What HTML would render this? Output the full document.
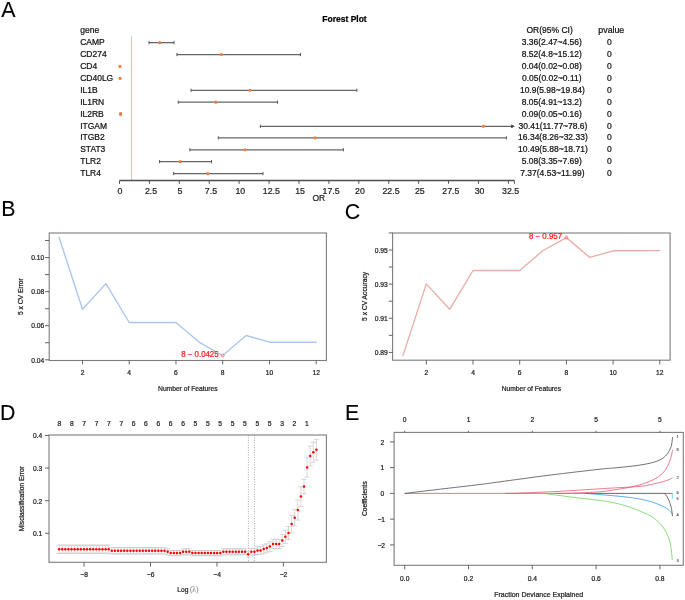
<!DOCTYPE html>
<html><head><meta charset="utf-8"><style>
html,body{margin:0;padding:0;background:#fff;}
svg{display:block;will-change:transform;}
svg text{font-family:"Liberation Sans", sans-serif;stroke:currentColor;stroke-width:0.22px;}
</style></head><body>
<svg width="685" height="600" viewBox="0 0 685 600">
<rect width="685" height="600" fill="#fff"/>
<text transform="translate(1.3,16.7) scale(1,1.025)" x="0" y="0" font-size="21.4" fill="#000" color="#000" style="stroke-width:0.1px">A</text>
<text transform="translate(1.3,216.1) scale(1,1.025)" x="0" y="0" font-size="21.4" fill="#000" color="#000" style="stroke-width:0.1px">B</text>
<text transform="translate(344.8,219.1) scale(1,1.025)" x="0" y="0" font-size="21.4" fill="#000" color="#000" style="stroke-width:0.1px">C</text>
<text transform="translate(-0.1,419.9) scale(1,1.025)" x="0" y="0" font-size="21.4" fill="#000" color="#000" style="stroke-width:0.1px">D</text>
<text transform="translate(344.9,419.8) scale(1,1.025)" x="0" y="0" font-size="21.4" fill="#000" color="#000" style="stroke-width:0.1px">E</text>
<text transform="translate(344.50,21.90) scale(1,1.04)" font-size="8.5" text-anchor="middle" fill="#000" color="#000" font-weight="bold">Forest Plot</text>
<text transform="translate(80.30,33.30) scale(1,1.04)" font-size="8.5" text-anchor="start" fill="#111" color="#111">gene</text>
<text transform="translate(549.60,33.20) scale(1,1.04)" font-size="8.5" text-anchor="middle" fill="#111" color="#111">OR(95% CI)</text>
<text transform="translate(611.30,33.20) scale(1,1.04)" font-size="8.8" text-anchor="middle" fill="#111" color="#111">pvalue</text>
<line x1="131.50" y1="36.30" x2="131.50" y2="180.00" stroke="#a8cdec" stroke-width="1"/>
<text transform="translate(80.20,45.20) scale(1,1.04)" font-size="8.5" text-anchor="start" fill="#111" color="#111">CAMP</text>
<text transform="translate(551.80,45.20) scale(1,1.04)" font-size="8.5" text-anchor="middle" fill="#111" color="#111">3.36(2.47~4.56)</text>
<text transform="translate(609.30,45.20) scale(1,1.04)" font-size="8.5" text-anchor="middle" fill="#111" color="#111">0</text>
<line x1="149.06" y1="42.65" x2="174.06" y2="42.65" stroke="#666" stroke-width="1.25"/>
<line x1="149.06" y1="41.05" x2="149.06" y2="44.25" stroke="#555" stroke-width="1"/>
<line x1="174.06" y1="41.05" x2="174.06" y2="44.25" stroke="#555" stroke-width="1"/>
<circle cx="159.71" cy="42.65" r="1.6" fill="#f07d3a"/>
<text transform="translate(80.20,57.10) scale(1,1.04)" font-size="8.5" text-anchor="start" fill="#111" color="#111">CD274</text>
<text transform="translate(551.80,57.10) scale(1,1.04)" font-size="8.5" text-anchor="middle" fill="#111" color="#111">8.52(4.8~15.12)</text>
<text transform="translate(609.30,57.10) scale(1,1.04)" font-size="8.5" text-anchor="middle" fill="#111" color="#111">0</text>
<line x1="176.94" y1="54.55" x2="300.43" y2="54.55" stroke="#666" stroke-width="1.25"/>
<line x1="176.94" y1="52.95" x2="176.94" y2="56.15" stroke="#555" stroke-width="1"/>
<line x1="300.43" y1="52.95" x2="300.43" y2="56.15" stroke="#555" stroke-width="1"/>
<circle cx="221.45" cy="54.55" r="1.6" fill="#f07d3a"/>
<text transform="translate(80.20,69.00) scale(1,1.04)" font-size="8.5" text-anchor="start" fill="#111" color="#111">CD4</text>
<text transform="translate(551.80,69.00) scale(1,1.04)" font-size="8.5" text-anchor="middle" fill="#111" color="#111">0.04(0.02~0.08)</text>
<text transform="translate(609.30,69.00) scale(1,1.04)" font-size="8.5" text-anchor="middle" fill="#111" color="#111">0</text>
<circle cx="119.98" cy="66.45" r="1.6" fill="#f07d3a"/>
<text transform="translate(80.20,80.90) scale(1,1.04)" font-size="8.5" text-anchor="start" fill="#111" color="#111">CD40LG</text>
<text transform="translate(551.80,80.90) scale(1,1.04)" font-size="8.5" text-anchor="middle" fill="#111" color="#111">0.05(0.02~0.11)</text>
<text transform="translate(609.30,80.90) scale(1,1.04)" font-size="8.5" text-anchor="middle" fill="#111" color="#111">0</text>
<circle cx="120.10" cy="78.35" r="1.6" fill="#f07d3a"/>
<text transform="translate(80.20,92.80) scale(1,1.04)" font-size="8.5" text-anchor="start" fill="#111" color="#111">IL1B</text>
<text transform="translate(552.36,92.80) scale(1,1.04)" font-size="8.5" text-anchor="middle" fill="#111" color="#111">10.9(5.98~19.84)</text>
<text transform="translate(609.30,92.80) scale(1,1.04)" font-size="8.5" text-anchor="middle" fill="#111" color="#111">0</text>
<line x1="191.06" y1="90.25" x2="356.91" y2="90.25" stroke="#666" stroke-width="1.25"/>
<line x1="191.06" y1="88.65" x2="191.06" y2="91.85" stroke="#555" stroke-width="1"/>
<line x1="356.91" y1="88.65" x2="356.91" y2="91.85" stroke="#555" stroke-width="1"/>
<circle cx="249.93" cy="90.25" r="1.6" fill="#f07d3a"/>
<text transform="translate(80.20,104.70) scale(1,1.04)" font-size="8.5" text-anchor="start" fill="#111" color="#111">IL1RN</text>
<text transform="translate(551.80,104.70) scale(1,1.04)" font-size="8.5" text-anchor="middle" fill="#111" color="#111">8.05(4.91~13.2)</text>
<text transform="translate(609.30,104.70) scale(1,1.04)" font-size="8.5" text-anchor="middle" fill="#111" color="#111">0</text>
<line x1="178.25" y1="102.15" x2="277.45" y2="102.15" stroke="#666" stroke-width="1.25"/>
<line x1="178.25" y1="100.55" x2="178.25" y2="103.75" stroke="#555" stroke-width="1"/>
<line x1="277.45" y1="100.55" x2="277.45" y2="103.75" stroke="#555" stroke-width="1"/>
<circle cx="215.83" cy="102.15" r="1.6" fill="#f07d3a"/>
<text transform="translate(80.20,116.60) scale(1,1.04)" font-size="8.5" text-anchor="start" fill="#111" color="#111">IL2RB</text>
<text transform="translate(551.80,116.60) scale(1,1.04)" font-size="8.5" text-anchor="middle" fill="#111" color="#111">0.09(0.05~0.16)</text>
<text transform="translate(609.30,116.60) scale(1,1.04)" font-size="8.5" text-anchor="middle" fill="#111" color="#111">0</text>
<line x1="120.10" y1="114.05" x2="121.41" y2="114.05" stroke="#666" stroke-width="1.25"/>
<line x1="120.10" y1="112.45" x2="120.10" y2="115.65" stroke="#555" stroke-width="1"/>
<line x1="121.41" y1="112.45" x2="121.41" y2="115.65" stroke="#555" stroke-width="1"/>
<circle cx="120.58" cy="114.05" r="1.6" fill="#f07d3a"/>
<text transform="translate(80.20,128.50) scale(1,1.04)" font-size="8.5" text-anchor="start" fill="#111" color="#111">ITGAM</text>
<text transform="translate(552.92,128.50) scale(1,1.04)" font-size="8.5" text-anchor="middle" fill="#111" color="#111">30.41(11.77~78.6)</text>
<text transform="translate(609.30,128.50) scale(1,1.04)" font-size="8.5" text-anchor="middle" fill="#111" color="#111">0</text>
<line x1="260.34" y1="126.35" x2="512.00" y2="126.35" stroke="#666" stroke-width="1.25"/>
<path d="M514.9,126.35 L511.2,124.45 L511.2,128.25 Z" fill="#3a3a3a"/>
<line x1="260.34" y1="124.75" x2="260.34" y2="127.95" stroke="#555" stroke-width="1"/>
<circle cx="483.39" cy="126.35" r="1.6" fill="#f07d3a"/>
<text transform="translate(80.20,140.40) scale(1,1.04)" font-size="8.5" text-anchor="start" fill="#111" color="#111">ITGB2</text>
<text transform="translate(552.92,140.40) scale(1,1.04)" font-size="8.5" text-anchor="middle" fill="#111" color="#111">16.34(8.26~32.33)</text>
<text transform="translate(609.30,140.40) scale(1,1.04)" font-size="8.5" text-anchor="middle" fill="#111" color="#111">0</text>
<line x1="218.34" y1="137.85" x2="506.36" y2="137.85" stroke="#666" stroke-width="1.25"/>
<line x1="218.34" y1="136.25" x2="218.34" y2="139.45" stroke="#555" stroke-width="1"/>
<line x1="506.36" y1="136.25" x2="506.36" y2="139.45" stroke="#555" stroke-width="1"/>
<circle cx="315.02" cy="137.85" r="1.6" fill="#f07d3a"/>
<text transform="translate(80.20,152.30) scale(1,1.04)" font-size="8.5" text-anchor="start" fill="#111" color="#111">STAT3</text>
<text transform="translate(552.92,152.30) scale(1,1.04)" font-size="8.5" text-anchor="middle" fill="#111" color="#111">10.49(5.88~18.71)</text>
<text transform="translate(609.30,152.30) scale(1,1.04)" font-size="8.5" text-anchor="middle" fill="#111" color="#111">0</text>
<line x1="189.86" y1="149.75" x2="343.38" y2="149.75" stroke="#666" stroke-width="1.25"/>
<line x1="189.86" y1="148.15" x2="189.86" y2="151.35" stroke="#555" stroke-width="1"/>
<line x1="343.38" y1="148.15" x2="343.38" y2="151.35" stroke="#555" stroke-width="1"/>
<circle cx="245.02" cy="149.75" r="1.6" fill="#f07d3a"/>
<text transform="translate(80.20,164.20) scale(1,1.04)" font-size="8.5" text-anchor="start" fill="#111" color="#111">TLR2</text>
<text transform="translate(551.80,164.20) scale(1,1.04)" font-size="8.5" text-anchor="middle" fill="#111" color="#111">5.08(3.35~7.69)</text>
<text transform="translate(609.30,164.20) scale(1,1.04)" font-size="8.5" text-anchor="middle" fill="#111" color="#111">0</text>
<line x1="159.59" y1="161.65" x2="211.52" y2="161.65" stroke="#666" stroke-width="1.25"/>
<line x1="159.59" y1="160.05" x2="159.59" y2="163.25" stroke="#555" stroke-width="1"/>
<line x1="211.52" y1="160.05" x2="211.52" y2="163.25" stroke="#555" stroke-width="1"/>
<circle cx="180.29" cy="161.65" r="1.6" fill="#f07d3a"/>
<text transform="translate(80.20,176.10) scale(1,1.04)" font-size="8.5" text-anchor="start" fill="#111" color="#111">TLR4</text>
<text transform="translate(552.36,176.10) scale(1,1.04)" font-size="8.5" text-anchor="middle" fill="#111" color="#111">7.37(4.53~11.99)</text>
<text transform="translate(609.30,176.10) scale(1,1.04)" font-size="8.5" text-anchor="middle" fill="#111" color="#111">0</text>
<line x1="173.71" y1="173.55" x2="262.97" y2="173.55" stroke="#666" stroke-width="1.25"/>
<line x1="173.71" y1="171.95" x2="173.71" y2="175.15" stroke="#555" stroke-width="1"/>
<line x1="262.97" y1="171.95" x2="262.97" y2="175.15" stroke="#555" stroke-width="1"/>
<circle cx="207.69" cy="173.55" r="1.6" fill="#f07d3a"/>
<line x1="119.50" y1="180.50" x2="514.40" y2="180.50" stroke="#505050" stroke-width="1.3"/>
<line x1="119.50" y1="180.50" x2="119.50" y2="183.80" stroke="#505050" stroke-width="1"/>
<line x1="149.41" y1="180.50" x2="149.41" y2="183.80" stroke="#505050" stroke-width="1"/>
<line x1="179.33" y1="180.50" x2="179.33" y2="183.80" stroke="#505050" stroke-width="1"/>
<line x1="209.25" y1="180.50" x2="209.25" y2="183.80" stroke="#505050" stroke-width="1"/>
<line x1="239.16" y1="180.50" x2="239.16" y2="183.80" stroke="#505050" stroke-width="1"/>
<line x1="269.07" y1="180.50" x2="269.07" y2="183.80" stroke="#505050" stroke-width="1"/>
<line x1="298.99" y1="180.50" x2="298.99" y2="183.80" stroke="#505050" stroke-width="1"/>
<line x1="328.90" y1="180.50" x2="328.90" y2="183.80" stroke="#505050" stroke-width="1"/>
<line x1="358.82" y1="180.50" x2="358.82" y2="183.80" stroke="#505050" stroke-width="1"/>
<line x1="388.73" y1="180.50" x2="388.73" y2="183.80" stroke="#505050" stroke-width="1"/>
<line x1="418.65" y1="180.50" x2="418.65" y2="183.80" stroke="#505050" stroke-width="1"/>
<line x1="448.56" y1="180.50" x2="448.56" y2="183.80" stroke="#505050" stroke-width="1"/>
<line x1="478.48" y1="180.50" x2="478.48" y2="183.80" stroke="#505050" stroke-width="1"/>
<line x1="508.39" y1="180.50" x2="508.39" y2="183.80" stroke="#505050" stroke-width="1"/>
<line x1="514.38" y1="180.50" x2="514.38" y2="183.80" stroke="#505050" stroke-width="1"/>
<text transform="translate(120.06,193.60) scale(1,1.04)" font-size="8.8" text-anchor="middle" fill="#222" color="#222">0</text>
<text transform="translate(151.09,193.60) scale(1,1.04)" font-size="8.8" text-anchor="middle" fill="#222" color="#222">2.5</text>
<text transform="translate(179.89,193.60) scale(1,1.04)" font-size="8.8" text-anchor="middle" fill="#222" color="#222">5</text>
<text transform="translate(210.93,193.60) scale(1,1.04)" font-size="8.8" text-anchor="middle" fill="#222" color="#222">7.5</text>
<text transform="translate(240.28,193.60) scale(1,1.04)" font-size="8.8" text-anchor="middle" fill="#222" color="#222">10</text>
<text transform="translate(271.31,193.60) scale(1,1.04)" font-size="8.8" text-anchor="middle" fill="#222" color="#222">12.5</text>
<text transform="translate(300.11,193.60) scale(1,1.04)" font-size="8.8" text-anchor="middle" fill="#222" color="#222">15</text>
<text transform="translate(331.14,193.60) scale(1,1.04)" font-size="8.8" text-anchor="middle" fill="#222" color="#222">17.5</text>
<text transform="translate(359.94,193.60) scale(1,1.04)" font-size="8.8" text-anchor="middle" fill="#222" color="#222">20</text>
<text transform="translate(390.97,193.60) scale(1,1.04)" font-size="8.8" text-anchor="middle" fill="#222" color="#222">22.5</text>
<text transform="translate(419.77,193.60) scale(1,1.04)" font-size="8.8" text-anchor="middle" fill="#222" color="#222">25</text>
<text transform="translate(450.81,193.60) scale(1,1.04)" font-size="8.8" text-anchor="middle" fill="#222" color="#222">27.5</text>
<text transform="translate(479.60,193.60) scale(1,1.04)" font-size="8.8" text-anchor="middle" fill="#222" color="#222">30</text>
<text transform="translate(510.63,193.60) scale(1,1.04)" font-size="8.8" text-anchor="middle" fill="#222" color="#222">32.5</text>
<text transform="translate(318.80,200.80) scale(1,1.04)" font-size="8.5" text-anchor="middle" fill="#222" color="#222">OR</text>
<rect x="49.2" y="233.0" width="277.2" height="127.5" fill="none" stroke="#7d7d7d" stroke-width="1.1"/>
<line x1="45.00" y1="359.80" x2="49.20" y2="359.80" stroke="#555" stroke-width="0.9"/>
<text transform="translate(44.20,362.50) scale(1,1.04)" font-size="6.7" text-anchor="end" fill="#222" color="#222">0.04</text>
<line x1="45.00" y1="342.76" x2="49.20" y2="342.76" stroke="#555" stroke-width="0.9"/>
<line x1="45.00" y1="325.72" x2="49.20" y2="325.72" stroke="#555" stroke-width="0.9"/>
<text transform="translate(44.20,328.42) scale(1,1.04)" font-size="6.7" text-anchor="end" fill="#222" color="#222">0.06</text>
<line x1="45.00" y1="308.68" x2="49.20" y2="308.68" stroke="#555" stroke-width="0.9"/>
<line x1="45.00" y1="291.64" x2="49.20" y2="291.64" stroke="#555" stroke-width="0.9"/>
<text transform="translate(44.20,294.34) scale(1,1.04)" font-size="6.7" text-anchor="end" fill="#222" color="#222">0.08</text>
<line x1="45.00" y1="274.60" x2="49.20" y2="274.60" stroke="#555" stroke-width="0.9"/>
<line x1="45.00" y1="257.56" x2="49.20" y2="257.56" stroke="#555" stroke-width="0.9"/>
<text transform="translate(44.20,260.26) scale(1,1.04)" font-size="6.7" text-anchor="end" fill="#222" color="#222">0.10</text>
<line x1="45.00" y1="240.52" x2="49.20" y2="240.52" stroke="#555" stroke-width="0.9"/>
<line x1="82.50" y1="360.50" x2="82.50" y2="364.40" stroke="#555" stroke-width="0.9"/>
<text transform="translate(82.50,374.90) scale(1,1.04)" font-size="6.7" text-anchor="middle" fill="#222" color="#222">2</text>
<line x1="129.24" y1="360.50" x2="129.24" y2="364.40" stroke="#555" stroke-width="0.9"/>
<text transform="translate(129.24,374.90) scale(1,1.04)" font-size="6.7" text-anchor="middle" fill="#222" color="#222">4</text>
<line x1="175.98" y1="360.50" x2="175.98" y2="364.40" stroke="#555" stroke-width="0.9"/>
<text transform="translate(175.98,374.90) scale(1,1.04)" font-size="6.7" text-anchor="middle" fill="#222" color="#222">6</text>
<line x1="222.72" y1="360.50" x2="222.72" y2="364.40" stroke="#555" stroke-width="0.9"/>
<text transform="translate(222.72,374.90) scale(1,1.04)" font-size="6.7" text-anchor="middle" fill="#222" color="#222">8</text>
<line x1="269.46" y1="360.50" x2="269.46" y2="364.40" stroke="#555" stroke-width="0.9"/>
<text transform="translate(269.46,374.90) scale(1,1.04)" font-size="6.7" text-anchor="middle" fill="#222" color="#222">10</text>
<line x1="316.20" y1="360.50" x2="316.20" y2="364.40" stroke="#555" stroke-width="0.9"/>
<text transform="translate(316.20,374.90) scale(1,1.04)" font-size="6.7" text-anchor="middle" fill="#222" color="#222">12</text>
<text transform="translate(187.80,391.00) scale(1,1.04)" font-size="6.7" text-anchor="middle" fill="#222" color="#222">Number of Features</text>
<text transform="translate(23.1,296.6) rotate(-90) scale(1,1.04)" font-size="6.7" text-anchor="middle" fill="#222" color="#222">5 x CV Error</text>
<polyline points="59.13,237.50 82.50,309.30 105.87,283.60 129.24,322.50 152.61,322.50 175.98,322.50 199.35,342.30 222.72,355.50 246.09,335.50 269.46,342.20 292.83,342.30 316.20,342.30" fill="none" stroke="#adc7ec" stroke-width="1.4" stroke-linejoin="round" stroke-linecap="round"/>
<text transform="translate(218.60,357.30) scale(1,1.04)" font-size="7.85" text-anchor="end" fill="#ff1a1a" color="#ff1a1a">8 − 0.0425</text>
<circle cx="222.72" cy="355.5" r="1.5" fill="none" stroke="#ee7070" stroke-width="0.8"/>
<rect x="392.6" y="233.0" width="277.5" height="127.19999999999999" fill="none" stroke="#7d7d7d" stroke-width="1.1"/>
<line x1="388.80" y1="352.42" x2="392.60" y2="352.42" stroke="#555" stroke-width="0.9"/>
<text transform="translate(387.80,355.22) scale(1,1.04)" font-size="6.7" text-anchor="end" fill="#222" color="#222">0.89</text>
<line x1="388.80" y1="335.35" x2="392.60" y2="335.35" stroke="#555" stroke-width="0.9"/>
<line x1="388.80" y1="318.28" x2="392.60" y2="318.28" stroke="#555" stroke-width="0.9"/>
<text transform="translate(387.80,321.08) scale(1,1.04)" font-size="6.7" text-anchor="end" fill="#222" color="#222">0.91</text>
<line x1="388.80" y1="301.21" x2="392.60" y2="301.21" stroke="#555" stroke-width="0.9"/>
<line x1="388.80" y1="284.14" x2="392.60" y2="284.14" stroke="#555" stroke-width="0.9"/>
<text transform="translate(387.80,286.94) scale(1,1.04)" font-size="6.7" text-anchor="end" fill="#222" color="#222">0.93</text>
<line x1="388.80" y1="267.07" x2="392.60" y2="267.07" stroke="#555" stroke-width="0.9"/>
<line x1="388.80" y1="250.00" x2="392.60" y2="250.00" stroke="#555" stroke-width="0.9"/>
<text transform="translate(387.80,252.80) scale(1,1.04)" font-size="6.7" text-anchor="end" fill="#222" color="#222">0.95</text>
<line x1="388.80" y1="232.93" x2="392.60" y2="232.93" stroke="#555" stroke-width="0.9"/>
<line x1="426.30" y1="360.20" x2="426.30" y2="364.50" stroke="#555" stroke-width="0.9"/>
<text transform="translate(426.30,374.90) scale(1,1.04)" font-size="6.7" text-anchor="middle" fill="#222" color="#222">2</text>
<line x1="473.00" y1="360.20" x2="473.00" y2="364.50" stroke="#555" stroke-width="0.9"/>
<text transform="translate(473.00,374.90) scale(1,1.04)" font-size="6.7" text-anchor="middle" fill="#222" color="#222">4</text>
<line x1="519.70" y1="360.20" x2="519.70" y2="364.50" stroke="#555" stroke-width="0.9"/>
<text transform="translate(519.70,374.90) scale(1,1.04)" font-size="6.7" text-anchor="middle" fill="#222" color="#222">6</text>
<line x1="566.40" y1="360.20" x2="566.40" y2="364.50" stroke="#555" stroke-width="0.9"/>
<text transform="translate(566.40,374.90) scale(1,1.04)" font-size="6.7" text-anchor="middle" fill="#222" color="#222">8</text>
<line x1="613.10" y1="360.20" x2="613.10" y2="364.50" stroke="#555" stroke-width="0.9"/>
<text transform="translate(613.10,374.90) scale(1,1.04)" font-size="6.7" text-anchor="middle" fill="#222" color="#222">10</text>
<line x1="659.80" y1="360.20" x2="659.80" y2="364.50" stroke="#555" stroke-width="0.9"/>
<text transform="translate(659.80,374.90) scale(1,1.04)" font-size="6.7" text-anchor="middle" fill="#222" color="#222">12</text>
<text transform="translate(531.40,390.80) scale(1,1.04)" font-size="6.7" text-anchor="middle" fill="#222" color="#222">Number of Features</text>
<text transform="translate(367.3,296.4) rotate(-90) scale(1,1.04)" font-size="6.7" text-anchor="middle" fill="#222" color="#222">5 x CV Accuracy</text>
<polyline points="402.95,355.60 426.30,283.90 449.65,309.30 473.00,270.50 496.35,270.50 519.70,270.50 543.05,250.50 566.40,237.60 589.75,257.40 613.10,250.80 636.45,250.70 659.80,250.60" fill="none" stroke="#e8b0aa" stroke-width="1.4" stroke-linejoin="round" stroke-linecap="round"/>
<text transform="translate(562.00,239.30) scale(1,1.04)" font-size="7.85" text-anchor="end" fill="#ff1a1a" color="#ff1a1a">8 − 0.957</text>
<circle cx="566.40" cy="237.5" r="1.5" fill="none" stroke="#ee7070" stroke-width="0.8"/>
<rect x="49.0" y="435.0" width="277.4" height="127.29999999999995" fill="none" stroke="#7d7d7d" stroke-width="1.1"/>
<line x1="45.00" y1="533.27" x2="49.00" y2="533.27" stroke="#555" stroke-width="0.9"/>
<text transform="translate(42.20,536.17) scale(1,1.04)" font-size="6.7" text-anchor="end" fill="#222" color="#222">0.1</text>
<line x1="45.00" y1="500.68" x2="49.00" y2="500.68" stroke="#555" stroke-width="0.9"/>
<text transform="translate(42.20,503.58) scale(1,1.04)" font-size="6.7" text-anchor="end" fill="#222" color="#222">0.2</text>
<line x1="45.00" y1="468.09" x2="49.00" y2="468.09" stroke="#555" stroke-width="0.9"/>
<text transform="translate(42.20,470.99) scale(1,1.04)" font-size="6.7" text-anchor="end" fill="#222" color="#222">0.3</text>
<line x1="45.00" y1="435.50" x2="49.00" y2="435.50" stroke="#555" stroke-width="0.9"/>
<text transform="translate(42.20,438.40) scale(1,1.04)" font-size="6.7" text-anchor="end" fill="#222" color="#222">0.4</text>
<line x1="84.05" y1="562.30" x2="84.05" y2="566.60" stroke="#555" stroke-width="0.9"/>
<text transform="translate(84.15,577.30) scale(1,1.04)" font-size="6.7" text-anchor="middle" fill="#222" color="#222">−8</text>
<line x1="150.50" y1="562.30" x2="150.50" y2="566.60" stroke="#555" stroke-width="0.9"/>
<text transform="translate(150.60,577.30) scale(1,1.04)" font-size="6.7" text-anchor="middle" fill="#222" color="#222">−6</text>
<line x1="216.95" y1="562.30" x2="216.95" y2="566.60" stroke="#555" stroke-width="0.9"/>
<text transform="translate(217.05,577.30) scale(1,1.04)" font-size="6.7" text-anchor="middle" fill="#222" color="#222">−4</text>
<line x1="283.40" y1="562.30" x2="283.40" y2="566.60" stroke="#555" stroke-width="0.9"/>
<text transform="translate(283.50,577.30) scale(1,1.04)" font-size="6.7" text-anchor="middle" fill="#222" color="#222">−2</text>
<text transform="translate(177.30,591.90) scale(1,1.04)" font-size="6.7" text-anchor="start" fill="#222" color="#222">Log</text>
<text transform="translate(189.9,591.6) scale(1,1.08)" font-size="7.4" fill="#8c8c8c" color="#8c8c8c" style="font-family:'Liberation Serif',serif;stroke-width:0.1px">(λ)</text>
<text transform="translate(24.3,498.7) rotate(-90) scale(1,1.04)" font-size="6.7" text-anchor="middle" fill="#222" color="#222">Misclassification Error</text>
<line x1="248.40" y1="435.00" x2="248.40" y2="562.30" stroke="#5a5a5a" stroke-width="0.55" stroke-dasharray="0.9,1.55"/>
<line x1="254.50" y1="435.00" x2="254.50" y2="562.30" stroke="#5a5a5a" stroke-width="0.55" stroke-dasharray="0.9,1.55"/>
<path d="M59.10,545.10V553.30M56.50,545.10H61.70M56.50,553.30H61.70M62.20,545.10V553.30M59.60,545.10H64.80M59.60,553.30H64.80M65.30,545.10V553.30M62.70,545.10H67.90M62.70,553.30H67.90M68.40,545.10V553.30M65.80,545.10H71.00M65.80,553.30H71.00M71.50,545.10V553.30M68.90,545.10H74.10M68.90,553.30H74.10M74.60,545.10V553.30M72.00,545.10H77.20M72.00,553.30H77.20M77.70,545.10V553.30M75.10,545.10H80.30M75.10,553.30H80.30M80.80,545.10V553.30M78.20,545.10H83.40M78.20,553.30H83.40M83.90,545.10V553.30M81.30,545.10H86.50M81.30,553.30H86.50M87.00,545.10V553.30M84.40,545.10H89.60M84.40,553.30H89.60M90.10,545.10V553.30M87.50,545.10H92.70M87.50,553.30H92.70M93.20,545.10V553.30M90.60,545.10H95.80M90.60,553.30H95.80M96.30,545.10V553.30M93.70,545.10H98.90M93.70,553.30H98.90M99.40,545.10V553.30M96.80,545.10H102.00M96.80,553.30H102.00M102.50,545.10V553.30M99.90,545.10H105.10M99.90,553.30H105.10M105.60,545.10V553.30M103.00,545.10H108.20M103.00,553.30H108.20M108.70,545.10V553.30M106.10,545.10H111.30M106.10,553.30H111.30M111.80,547.60V554.00M109.20,547.60H114.40M109.20,554.00H114.40M114.90,547.60V554.00M112.30,547.60H117.50M112.30,554.00H117.50M118.00,547.60V554.00M115.40,547.60H120.60M115.40,554.00H120.60M121.10,547.60V554.00M118.50,547.60H123.70M118.50,554.00H123.70M124.20,547.60V554.00M121.60,547.60H126.80M121.60,554.00H126.80M127.30,547.60V554.00M124.70,547.60H129.90M124.70,554.00H129.90M130.40,547.60V554.00M127.80,547.60H133.00M127.80,554.00H133.00M133.50,547.60V554.00M130.90,547.60H136.10M130.90,554.00H136.10M136.60,547.60V554.00M134.00,547.60H139.20M134.00,554.00H139.20M139.70,547.60V554.00M137.10,547.60H142.30M137.10,554.00H142.30M142.80,547.60V554.00M140.20,547.60H145.40M140.20,554.00H145.40M145.90,547.60V554.00M143.30,547.60H148.50M143.30,554.00H148.50M149.00,547.60V554.00M146.40,547.60H151.60M146.40,554.00H151.60M152.10,547.60V554.00M149.50,547.60H154.70M149.50,554.00H154.70M155.20,547.60V554.00M152.60,547.60H157.80M152.60,554.00H157.80M158.30,547.60V554.00M155.70,547.60H160.90M155.70,554.00H160.90M161.40,547.60V554.00M158.80,547.60H164.00M158.80,554.00H164.00M164.50,547.60V554.00M161.90,547.60H167.10M161.90,554.00H167.10M167.60,548.80V554.80M165.00,548.80H170.20M165.00,554.80H170.20M170.70,550.50V555.70M168.10,550.50H173.30M168.10,555.70H173.30M173.80,550.50V555.70M171.20,550.50H176.40M171.20,555.70H176.40M176.90,550.50V555.70M174.30,550.50H179.50M174.30,555.70H179.50M180.00,550.50V555.70M177.40,550.50H182.60M177.40,555.70H182.60M183.10,548.80V554.80M180.50,548.80H185.70M180.50,554.80H185.70M186.20,548.80V554.80M183.60,548.80H188.80M183.60,554.80H188.80M189.30,548.80V554.80M186.70,548.80H191.90M186.70,554.80H191.90M192.40,550.50V555.70M189.80,550.50H195.00M189.80,555.70H195.00M195.50,550.50V555.70M192.90,550.50H198.10M192.90,555.70H198.10M198.60,550.50V555.70M196.00,550.50H201.20M196.00,555.70H201.20M201.70,550.50V555.70M199.10,550.50H204.30M199.10,555.70H204.30M204.80,550.50V555.70M202.20,550.50H207.40M202.20,555.70H207.40M207.90,550.50V555.70M205.30,550.50H210.50M205.30,555.70H210.50M211.00,550.50V555.70M208.40,550.50H213.60M208.40,555.70H213.60M214.10,550.50V555.70M211.50,550.50H216.70M211.50,555.70H216.70M217.20,550.50V555.70M214.60,550.50H219.80M214.60,555.70H219.80M220.30,550.50V555.70M217.70,550.50H222.90M217.70,555.70H222.90M223.40,548.80V554.80M220.80,548.80H226.00M220.80,554.80H226.00M226.50,548.80V554.80M223.90,548.80H229.10M223.90,554.80H229.10M229.60,548.80V554.80M227.00,548.80H232.20M227.00,554.80H232.20M232.70,548.80V554.80M230.10,548.80H235.30M230.10,554.80H235.30M235.80,548.80V554.80M233.20,548.80H238.40M233.20,554.80H238.40M238.90,548.80V554.80M236.30,548.80H241.50M236.30,554.80H241.50M242.00,548.80V554.80M239.40,548.80H244.60M239.40,554.80H244.60M245.10,548.80V554.80M242.50,548.80H247.70M242.50,554.80H247.70M248.20,551.40V557.20M245.60,551.40H250.80M245.60,557.20H250.80M251.30,548.50V554.90M248.70,548.50H253.90M248.70,554.90H253.90M254.40,548.50V554.90M251.80,548.50H257.00M251.80,554.90H257.00M257.50,546.60V554.60M254.90,546.60H260.10M254.90,554.60H260.10M260.60,546.60V554.60M258.00,546.60H263.20M258.00,554.60H263.20M263.70,544.90V553.30M261.10,544.90H266.30M261.10,553.30H266.30M266.80,543.80V552.20M264.20,543.80H269.40M264.20,552.20H269.40M269.90,541.60V551.60M267.30,541.60H272.50M267.30,551.60H272.50M273.00,539.30V548.70M270.40,539.30H275.60M270.40,548.70H275.60M276.10,539.30V548.70M273.50,539.30H278.70M273.50,548.70H278.70M279.20,539.30V548.70M276.60,539.30H281.80M276.60,548.70H281.80M282.30,534.50V546.50M279.70,534.50H284.90M279.70,546.50H284.90M285.40,530.10V543.50M282.80,530.10H288.00M282.80,543.50H288.00M288.50,526.50V539.50M285.90,526.50H291.10M285.90,539.50H291.10M291.60,515.40V532.80M289.00,515.40H294.20M289.00,532.80H294.20M294.70,509.60V526.00M292.10,509.60H297.30M292.10,526.00H297.30M297.80,500.10V520.10M295.20,500.10H300.40M295.20,520.10H300.40M300.90,486.70V506.30M298.30,486.70H303.50M298.30,506.30H303.50M304.00,479.30V493.70M301.40,479.30H306.60M301.40,493.70H306.60M307.10,457.90V477.10M304.50,457.90H309.70M304.50,477.10H309.70M310.20,446.25V465.95M307.60,446.25H312.80M307.60,465.95H312.80M313.30,442.30V462.30M310.70,442.30H315.90M310.70,462.30H315.90M316.40,439.40V460.20M313.80,439.40H319.00M313.80,460.20H319.00" stroke="#bdbdbd" stroke-width="0.6" fill="none"/>
<circle cx="59.10" cy="549.20" r="1.25" fill="#ff0000"/>
<circle cx="62.20" cy="549.20" r="1.25" fill="#ff0000"/>
<circle cx="65.30" cy="549.20" r="1.25" fill="#ff0000"/>
<circle cx="68.40" cy="549.20" r="1.25" fill="#ff0000"/>
<circle cx="71.50" cy="549.20" r="1.25" fill="#ff0000"/>
<circle cx="74.60" cy="549.20" r="1.25" fill="#ff0000"/>
<circle cx="77.70" cy="549.20" r="1.25" fill="#ff0000"/>
<circle cx="80.80" cy="549.20" r="1.25" fill="#ff0000"/>
<circle cx="83.90" cy="549.20" r="1.25" fill="#ff0000"/>
<circle cx="87.00" cy="549.20" r="1.25" fill="#ff0000"/>
<circle cx="90.10" cy="549.20" r="1.25" fill="#ff0000"/>
<circle cx="93.20" cy="549.20" r="1.25" fill="#ff0000"/>
<circle cx="96.30" cy="549.20" r="1.25" fill="#ff0000"/>
<circle cx="99.40" cy="549.20" r="1.25" fill="#ff0000"/>
<circle cx="102.50" cy="549.20" r="1.25" fill="#ff0000"/>
<circle cx="105.60" cy="549.20" r="1.25" fill="#ff0000"/>
<circle cx="108.70" cy="549.20" r="1.25" fill="#ff0000"/>
<circle cx="111.80" cy="550.80" r="1.25" fill="#ff0000"/>
<circle cx="114.90" cy="550.80" r="1.25" fill="#ff0000"/>
<circle cx="118.00" cy="550.80" r="1.25" fill="#ff0000"/>
<circle cx="121.10" cy="550.80" r="1.25" fill="#ff0000"/>
<circle cx="124.20" cy="550.80" r="1.25" fill="#ff0000"/>
<circle cx="127.30" cy="550.80" r="1.25" fill="#ff0000"/>
<circle cx="130.40" cy="550.80" r="1.25" fill="#ff0000"/>
<circle cx="133.50" cy="550.80" r="1.25" fill="#ff0000"/>
<circle cx="136.60" cy="550.80" r="1.25" fill="#ff0000"/>
<circle cx="139.70" cy="550.80" r="1.25" fill="#ff0000"/>
<circle cx="142.80" cy="550.80" r="1.25" fill="#ff0000"/>
<circle cx="145.90" cy="550.80" r="1.25" fill="#ff0000"/>
<circle cx="149.00" cy="550.80" r="1.25" fill="#ff0000"/>
<circle cx="152.10" cy="550.80" r="1.25" fill="#ff0000"/>
<circle cx="155.20" cy="550.80" r="1.25" fill="#ff0000"/>
<circle cx="158.30" cy="550.80" r="1.25" fill="#ff0000"/>
<circle cx="161.40" cy="550.80" r="1.25" fill="#ff0000"/>
<circle cx="164.50" cy="550.80" r="1.25" fill="#ff0000"/>
<circle cx="167.60" cy="551.80" r="1.25" fill="#ff0000"/>
<circle cx="170.70" cy="553.10" r="1.25" fill="#ff0000"/>
<circle cx="173.80" cy="553.10" r="1.25" fill="#ff0000"/>
<circle cx="176.90" cy="553.10" r="1.25" fill="#ff0000"/>
<circle cx="180.00" cy="553.10" r="1.25" fill="#ff0000"/>
<circle cx="183.10" cy="551.80" r="1.25" fill="#ff0000"/>
<circle cx="186.20" cy="551.80" r="1.25" fill="#ff0000"/>
<circle cx="189.30" cy="551.80" r="1.25" fill="#ff0000"/>
<circle cx="192.40" cy="553.10" r="1.25" fill="#ff0000"/>
<circle cx="195.50" cy="553.10" r="1.25" fill="#ff0000"/>
<circle cx="198.60" cy="553.10" r="1.25" fill="#ff0000"/>
<circle cx="201.70" cy="553.10" r="1.25" fill="#ff0000"/>
<circle cx="204.80" cy="553.10" r="1.25" fill="#ff0000"/>
<circle cx="207.90" cy="553.10" r="1.25" fill="#ff0000"/>
<circle cx="211.00" cy="553.10" r="1.25" fill="#ff0000"/>
<circle cx="214.10" cy="553.10" r="1.25" fill="#ff0000"/>
<circle cx="217.20" cy="553.10" r="1.25" fill="#ff0000"/>
<circle cx="220.30" cy="553.10" r="1.25" fill="#ff0000"/>
<circle cx="223.40" cy="551.80" r="1.25" fill="#ff0000"/>
<circle cx="226.50" cy="551.80" r="1.25" fill="#ff0000"/>
<circle cx="229.60" cy="551.80" r="1.25" fill="#ff0000"/>
<circle cx="232.70" cy="551.80" r="1.25" fill="#ff0000"/>
<circle cx="235.80" cy="551.80" r="1.25" fill="#ff0000"/>
<circle cx="238.90" cy="551.80" r="1.25" fill="#ff0000"/>
<circle cx="242.00" cy="551.80" r="1.25" fill="#ff0000"/>
<circle cx="245.10" cy="551.80" r="1.25" fill="#ff0000"/>
<circle cx="248.20" cy="554.30" r="1.25" fill="#ff0000"/>
<circle cx="251.30" cy="551.70" r="1.25" fill="#ff0000"/>
<circle cx="254.40" cy="551.70" r="1.25" fill="#ff0000"/>
<circle cx="257.50" cy="550.60" r="1.25" fill="#ff0000"/>
<circle cx="260.60" cy="550.60" r="1.25" fill="#ff0000"/>
<circle cx="263.70" cy="549.10" r="1.25" fill="#ff0000"/>
<circle cx="266.80" cy="548.00" r="1.25" fill="#ff0000"/>
<circle cx="269.90" cy="546.60" r="1.25" fill="#ff0000"/>
<circle cx="273.00" cy="544.00" r="1.25" fill="#ff0000"/>
<circle cx="276.10" cy="544.00" r="1.25" fill="#ff0000"/>
<circle cx="279.20" cy="544.00" r="1.25" fill="#ff0000"/>
<circle cx="282.30" cy="540.50" r="1.25" fill="#ff0000"/>
<circle cx="285.40" cy="536.80" r="1.25" fill="#ff0000"/>
<circle cx="288.50" cy="533.00" r="1.25" fill="#ff0000"/>
<circle cx="291.60" cy="524.10" r="1.25" fill="#ff0000"/>
<circle cx="294.70" cy="517.80" r="1.25" fill="#ff0000"/>
<circle cx="297.80" cy="510.10" r="1.25" fill="#ff0000"/>
<circle cx="300.90" cy="496.50" r="1.25" fill="#ff0000"/>
<circle cx="304.00" cy="486.50" r="1.25" fill="#ff0000"/>
<circle cx="307.10" cy="467.50" r="1.25" fill="#ff0000"/>
<circle cx="310.20" cy="456.10" r="1.25" fill="#ff0000"/>
<circle cx="313.30" cy="452.30" r="1.25" fill="#ff0000"/>
<circle cx="316.40" cy="449.80" r="1.25" fill="#ff0000"/>
<text transform="translate(59.40,425.90) scale(1,1.04)" font-size="6.7" text-anchor="middle" fill="#222" color="#222">8</text>
<text transform="translate(71.77,425.90) scale(1,1.04)" font-size="6.7" text-anchor="middle" fill="#222" color="#222">8</text>
<text transform="translate(84.14,425.90) scale(1,1.04)" font-size="6.7" text-anchor="middle" fill="#222" color="#222">7</text>
<text transform="translate(96.51,425.90) scale(1,1.04)" font-size="6.7" text-anchor="middle" fill="#222" color="#222">7</text>
<text transform="translate(108.88,425.90) scale(1,1.04)" font-size="6.7" text-anchor="middle" fill="#222" color="#222">7</text>
<text transform="translate(121.25,425.90) scale(1,1.04)" font-size="6.7" text-anchor="middle" fill="#222" color="#222">7</text>
<text transform="translate(133.62,425.90) scale(1,1.04)" font-size="6.7" text-anchor="middle" fill="#222" color="#222">6</text>
<text transform="translate(145.99,425.90) scale(1,1.04)" font-size="6.7" text-anchor="middle" fill="#222" color="#222">6</text>
<text transform="translate(158.36,425.90) scale(1,1.04)" font-size="6.7" text-anchor="middle" fill="#222" color="#222">6</text>
<text transform="translate(170.73,425.90) scale(1,1.04)" font-size="6.7" text-anchor="middle" fill="#222" color="#222">6</text>
<text transform="translate(183.10,425.90) scale(1,1.04)" font-size="6.7" text-anchor="middle" fill="#222" color="#222">6</text>
<text transform="translate(195.47,425.90) scale(1,1.04)" font-size="6.7" text-anchor="middle" fill="#222" color="#222">5</text>
<text transform="translate(207.84,425.90) scale(1,1.04)" font-size="6.7" text-anchor="middle" fill="#222" color="#222">5</text>
<text transform="translate(220.21,425.90) scale(1,1.04)" font-size="6.7" text-anchor="middle" fill="#222" color="#222">5</text>
<text transform="translate(232.58,425.90) scale(1,1.04)" font-size="6.7" text-anchor="middle" fill="#222" color="#222">5</text>
<text transform="translate(244.95,425.90) scale(1,1.04)" font-size="6.7" text-anchor="middle" fill="#222" color="#222">5</text>
<text transform="translate(257.32,425.90) scale(1,1.04)" font-size="6.7" text-anchor="middle" fill="#222" color="#222">5</text>
<text transform="translate(269.69,425.90) scale(1,1.04)" font-size="6.7" text-anchor="middle" fill="#222" color="#222">5</text>
<text transform="translate(282.06,425.90) scale(1,1.04)" font-size="6.7" text-anchor="middle" fill="#222" color="#222">3</text>
<text transform="translate(294.43,425.90) scale(1,1.04)" font-size="6.7" text-anchor="middle" fill="#222" color="#222">2</text>
<text transform="translate(306.80,425.90) scale(1,1.04)" font-size="6.7" text-anchor="middle" fill="#222" color="#222">1</text>
<rect x="394.1" y="432.4" width="289.19999999999993" height="132.89999999999998" fill="none" stroke="#7d7d7d" stroke-width="1.1"/>
<line x1="390.00" y1="544.90" x2="394.10" y2="544.90" stroke="#555" stroke-width="0.9"/>
<text transform="translate(385.10,547.60) scale(1,1.04)" font-size="6.7" text-anchor="end" fill="#222" color="#222">−2</text>
<line x1="390.00" y1="519.15" x2="394.10" y2="519.15" stroke="#555" stroke-width="0.9"/>
<text transform="translate(385.10,521.85) scale(1,1.04)" font-size="6.7" text-anchor="end" fill="#222" color="#222">−1</text>
<line x1="390.00" y1="493.40" x2="394.10" y2="493.40" stroke="#555" stroke-width="0.9"/>
<text transform="translate(384.30,496.10) scale(1,1.04)" font-size="6.7" text-anchor="end" fill="#222" color="#222">0</text>
<line x1="390.00" y1="467.65" x2="394.10" y2="467.65" stroke="#555" stroke-width="0.9"/>
<text transform="translate(384.30,470.35) scale(1,1.04)" font-size="6.7" text-anchor="end" fill="#222" color="#222">1</text>
<line x1="390.00" y1="441.90" x2="394.10" y2="441.90" stroke="#555" stroke-width="0.9"/>
<text transform="translate(384.30,444.60) scale(1,1.04)" font-size="6.7" text-anchor="end" fill="#222" color="#222">2</text>
<line x1="404.70" y1="565.30" x2="404.70" y2="569.30" stroke="#555" stroke-width="0.9"/>
<text transform="translate(404.70,580.60) scale(1,1.04)" font-size="6.7" text-anchor="middle" fill="#222" color="#222">0.0</text>
<line x1="404.70" y1="432.40" x2="404.70" y2="430.80" stroke="#555" stroke-width="0.9"/>
<text transform="translate(404.70,422.00) scale(1,1.04)" font-size="6.7" text-anchor="middle" fill="#222" color="#222">0</text>
<line x1="468.50" y1="565.30" x2="468.50" y2="569.30" stroke="#555" stroke-width="0.9"/>
<text transform="translate(468.50,580.60) scale(1,1.04)" font-size="6.7" text-anchor="middle" fill="#222" color="#222">0.2</text>
<line x1="468.50" y1="432.40" x2="468.50" y2="430.80" stroke="#555" stroke-width="0.9"/>
<text transform="translate(468.50,422.00) scale(1,1.04)" font-size="6.7" text-anchor="middle" fill="#222" color="#222">1</text>
<line x1="532.30" y1="565.30" x2="532.30" y2="569.30" stroke="#555" stroke-width="0.9"/>
<text transform="translate(532.30,580.60) scale(1,1.04)" font-size="6.7" text-anchor="middle" fill="#222" color="#222">0.4</text>
<line x1="532.30" y1="432.40" x2="532.30" y2="430.80" stroke="#555" stroke-width="0.9"/>
<text transform="translate(532.30,422.00) scale(1,1.04)" font-size="6.7" text-anchor="middle" fill="#222" color="#222">2</text>
<line x1="596.10" y1="565.30" x2="596.10" y2="569.30" stroke="#555" stroke-width="0.9"/>
<text transform="translate(596.10,580.60) scale(1,1.04)" font-size="6.7" text-anchor="middle" fill="#222" color="#222">0.6</text>
<line x1="596.10" y1="432.40" x2="596.10" y2="430.80" stroke="#555" stroke-width="0.9"/>
<text transform="translate(596.10,422.00) scale(1,1.04)" font-size="6.7" text-anchor="middle" fill="#222" color="#222">5</text>
<line x1="659.90" y1="565.30" x2="659.90" y2="569.30" stroke="#555" stroke-width="0.9"/>
<text transform="translate(659.90,580.60) scale(1,1.04)" font-size="6.7" text-anchor="middle" fill="#222" color="#222">0.8</text>
<line x1="659.90" y1="432.40" x2="659.90" y2="430.80" stroke="#555" stroke-width="0.9"/>
<text transform="translate(659.90,422.00) scale(1,1.04)" font-size="6.7" text-anchor="middle" fill="#222" color="#222">5</text>
<text transform="translate(538.70,597.00) scale(1,1.04)" font-size="7.0" text-anchor="middle" fill="#222" color="#222">Fraction Deviance Explained</text>
<text transform="translate(367.3,498.6) rotate(-90) scale(1,1.04)" font-size="6.7" text-anchor="middle" fill="#222" color="#222">Coefficients</text>
<line x1="404.70" y1="493.40" x2="585.00" y2="493.40" stroke="#df536b" stroke-width="0.8"/>
<line x1="585.00" y1="493.40" x2="665.00" y2="493.40" stroke="#444" stroke-width="0.8"/>
<path d="M404.70,493.40 C410.58,492.70 427.45,490.68 440.00,489.20 C452.55,487.72 470.00,485.73 480.00,484.50 C490.00,483.27 488.33,483.37 500.00,481.80 C511.67,480.23 533.33,477.20 550.00,475.10 C566.67,473.00 589.72,470.35 600.00,469.20 C610.28,468.05 607.80,468.55 611.70,468.20 C615.60,467.85 619.52,467.50 623.40,467.10 C627.28,466.70 631.12,466.33 635.00,465.80 C638.88,465.27 643.20,464.62 646.70,463.90 C650.20,463.18 653.27,462.48 656.00,461.50 C658.73,460.52 661.15,459.35 663.10,458.00 C665.05,456.65 666.35,455.33 667.70,453.40 C669.05,451.47 670.38,449.13 671.20,446.40 C672.02,443.67 672.37,438.57 672.60,437.00" fill="none" stroke="#444" stroke-width="0.75"/>
<path d="M505.00,493.40 C507.50,493.33 513.33,493.23 520.00,493.00 C526.67,492.77 538.33,492.28 545.00,492.00 C551.67,491.72 550.83,491.83 560.00,491.30 C569.17,490.77 590.00,489.42 600.00,488.80 C610.00,488.18 613.18,488.02 620.00,487.60 C626.82,487.18 635.47,486.87 640.90,486.30 C646.33,485.73 648.52,485.08 652.60,484.20 C656.68,483.32 662.07,482.05 665.40,481.00 C668.73,479.95 671.40,478.42 672.60,477.90" fill="none" stroke="#df536b" stroke-width="0.75"/>
<path d="M555.00,493.40 C558.33,493.33 567.50,493.27 575.00,493.00 C582.50,492.73 592.92,492.40 600.00,491.80 C607.08,491.20 612.63,490.13 617.50,489.40 C622.37,488.67 625.50,488.15 629.20,487.40 C632.90,486.65 636.40,485.87 639.70,484.90 C643.00,483.93 645.88,482.93 649.00,481.60 C652.12,480.27 655.67,478.85 658.40,476.90 C661.13,474.95 663.47,472.62 665.40,469.90 C667.33,467.18 668.80,463.92 670.00,460.60 C671.20,457.28 672.17,451.77 672.60,450.00" fill="none" stroke="#df536b" stroke-width="0.75"/>
<path d="M544.00,493.40 C546.67,493.77 554.00,494.82 560.00,495.60 C566.00,496.38 573.33,497.30 580.00,498.10 C586.67,498.90 594.58,499.67 600.00,500.40 C605.42,501.13 608.33,501.63 612.50,502.50 C616.67,503.37 620.83,504.35 625.00,505.60 C629.17,506.85 633.33,508.33 637.50,510.00 C641.67,511.67 646.88,513.93 650.00,515.60 C653.12,517.27 654.17,518.23 656.25,520.00 C658.33,521.77 660.62,523.75 662.50,526.25 C664.38,528.75 666.15,531.88 667.50,535.00 C668.85,538.12 669.80,540.83 670.60,545.00 C671.40,549.17 672.02,557.50 672.30,560.00" fill="none" stroke="#61d04f" stroke-width="0.75"/>
<path d="M585.00,493.40 C587.50,493.60 593.33,494.02 600.00,494.60 C606.67,495.18 617.71,496.03 625.00,496.90 C632.29,497.77 638.54,498.70 643.75,499.80 C648.96,500.90 652.50,502.12 656.25,503.50 C660.00,504.88 663.74,506.58 666.25,508.10 C668.76,509.62 670.26,511.55 671.30,512.60 C672.34,513.65 672.30,514.10 672.50,514.40" fill="none" stroke="#2297e6" stroke-width="0.75"/>
<path d="M665.00,493.40 C665.62,494.50 667.71,497.65 668.75,500.00 C669.79,502.35 670.62,504.78 671.25,507.50 C671.88,510.22 672.29,514.83 672.50,516.30" fill="none" stroke="#444" stroke-width="0.75"/>
<line x1="665.00" y1="493.40" x2="672.60" y2="493.40" stroke="#cd0bbc" stroke-width="0.8"/>
<line x1="672.30" y1="493.40" x2="672.30" y2="498.80" stroke="#28e2e5" stroke-width="0.8"/>
<text transform="translate(677.60,438.40) scale(1,1.04)" font-size="4.0" text-anchor="middle" fill="#333" color="#333" style="stroke-width:0.08px">1</text>
<text transform="translate(677.60,451.40) scale(1,1.04)" font-size="4.0" text-anchor="middle" fill="#333" color="#333" style="stroke-width:0.08px">8</text>
<text transform="translate(677.60,479.20) scale(1,1.04)" font-size="4.0" text-anchor="middle" fill="#333" color="#333" style="stroke-width:0.08px">2</text>
<text transform="translate(677.60,494.40) scale(1,1.04)" font-size="4.0" text-anchor="middle" fill="#333" color="#333" style="stroke-width:0.08px">6</text>
<text transform="translate(677.60,500.20) scale(1,1.04)" font-size="4.0" text-anchor="middle" fill="#333" color="#333" style="stroke-width:0.08px">5</text>
<text transform="translate(677.60,516.30) scale(1,1.04)" font-size="4.0" text-anchor="middle" fill="#333" color="#333" style="stroke-width:0.08px">4</text>
<text transform="translate(677.60,561.60) scale(1,1.04)" font-size="4.0" text-anchor="middle" fill="#333" color="#333" style="stroke-width:0.08px">3</text>
</svg>
</body></html>
